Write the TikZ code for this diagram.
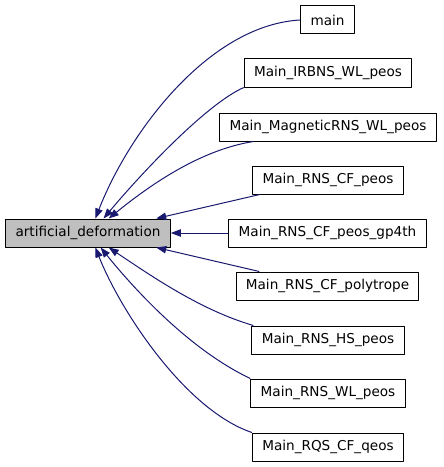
\documentclass[tikz,border=0pt]{standalone}
\usepackage{fontspec}
\setmainfont{DejaVu Sans}
\usetikzlibrary{arrows.meta}
\definecolor{edgeblue}{RGB}{25,25,112}
\definecolor{hilite}{RGB}{191,191,191}
\begin{document}
\begin{tikzpicture}[x=0.75pt, y=-0.75pt, font=\fontsize{10.2}{12}\selectfont, line join=round,
	fn/.style={draw=black, line width=0.75pt, minimum height=21pt, inner xsep=7.4pt, inner ysep=0pt},
	call/.style={draw=edgeblue, line width=0.75pt, -{Triangle[length=7.5pt,width=5.5pt]}}]
	\useasboundingbox (0,0) rectangle (443,467);
	% called function
	\node[fn, fill=hilite] (ad) at (88,233) {artificial\_deformation};
	% callers
	\node[fn] (main) at (327.5,20) {main};
	\node[fn] (irbns) at (328,73) {Main\_IRBNS\_WL\_peos};
	\node[fn] (magnetic) at (328,127) {Main\_MagneticRNS\_WL\_peos};
	\node[fn] (cfpeos) at (328,180) {Main\_RNS\_CF\_peos};
	\node[fn] (gpfour) at (327.5,233) {Main\_RNS\_CF\_peos\_gp4th};
	\node[fn] (poly) at (327.5,286) {Main\_RNS\_CF\_polytrope};
	\node[fn] (hs) at (328,340) {Main\_RNS\_HS\_peos};
	\node[fn] (wl) at (328,393) {Main\_RNS\_WL\_peos};
	\node[fn] (rqs) at (328,447) {Main\_RQS\_CF\_qeos};
	% edges
	\draw[call] (main.west) .. controls (210,25) and (130,130) .. (ad.63);
	\draw[call] (irbns.south west) .. controls (205,105) and (140,175) .. (ad.43);
	\draw[call] (magnetic.191) .. controls (200,150) and (150,185) .. (ad.35);
	\draw[call] (cfpeos.192) -- (ad.12);
	\draw[call] (gpfour.west) -- (ad.east);
	\draw[call] (poly.168) -- (ad.-12);
	\draw[call] (hs.169) .. controls (200,310) and (150,275) .. (ad.-35);
	\draw[call] (wl.north west) .. controls (190,350) and (135,290) .. (ad.-49);
	\draw[call] (rqs.north west) .. controls (185,410) and (120,310) .. (ad.-63);
\end{tikzpicture}
\end{document}
